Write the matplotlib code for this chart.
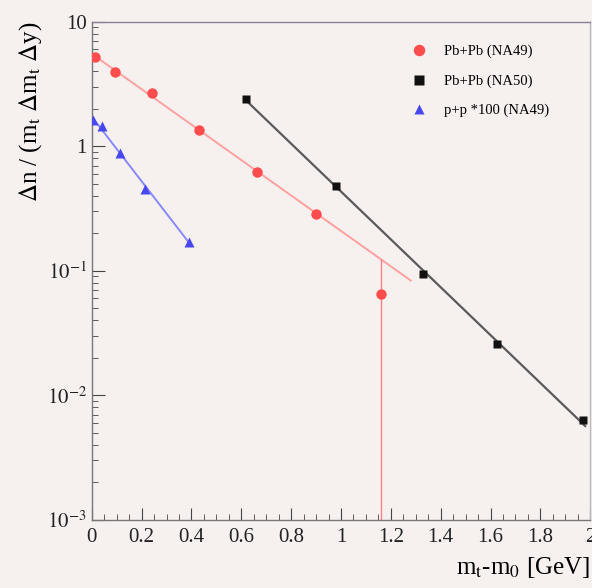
import numpy as np
import matplotlib
matplotlib.use("Agg")
import matplotlib.pyplot as plt
from matplotlib.ticker import FixedLocator, MultipleLocator, NullFormatter, LogLocator

plt.rcParams['font.family'] = ['Liberation Serif', 'DejaVu Serif']
plt.rcParams['mathtext.fontset'] = 'stix'

# data ==========================================
# Pb+Pb (NA49)
pb49_x = [0.012, 0.092, 0.24, 0.432, 0.664, 0.90, 1.16]
pb49_y = [5.2, 3.96, 2.69, 1.36, 0.62, 0.287, 0.065]
# Pb+Pb (NA50)
pb50_x = [0.62, 0.98, 1.328, 1.624, 1.97]
pb50_y = [2.41, 0.48, 0.0946, 0.026, 0.00635]
# p+p *100 (NA49)
pp_x = [0.004, 0.04, 0.112, 0.212, 0.392]
pp_y = [1.63, 1.46, 0.89, 0.456, 0.171]

# exponential fits (log-linear)
def fit_line(x, y, x0, x1):
    k, b = np.polyfit(x, np.log10(y), 1)
    xx = np.array([x0, x1])
    return xx, 10 ** (k * xx + b)

bg = '#f6f0ef'
fig = plt.figure(figsize=(5.92, 5.88), dpi=100, facecolor=bg)
ax = fig.add_axes([0.155, 0.116, 0.842, 0.847])
ax.set_facecolor(bg)

# fit lines
fx, fy = fit_line(pb49_x[:-1], pb49_y[:-1], 0.0, 1.28)
ax.plot(fx, fy, color='#ffa0a0', lw=1.4, zorder=2)
fx, fy = fit_line(pb50_x, pb50_y, 0.62, 1.98)
ax.plot(fx, fy, color='#5a5a5a', lw=1.6, zorder=2)
fx, fy = fit_line(pp_x, pp_y, 0.0, 0.392)
ax.plot(fx, fy, color='#8888ff', lw=1.4, zorder=2)

# error bar of last red point (down to zero)
ax.vlines(pb49_x[-1], 1e-4, 0.125, color='#ff8080', lw=1.0, zorder=2)

ax.plot(pb49_x, pb49_y, 'o', color='#ff4c4c', ms=7.5, mec='none', zorder=3,
        label='Pb+Pb (NA49)')
ax.plot(pb50_x, pb50_y, 's', color='#111111', ms=6, mec='none', zorder=3,
        label='Pb+Pb (NA50)')
ax.plot(pp_x, pp_y, '^', color='#4848f0', ms=7, mec='none', zorder=3,
        label='p+p *100 (NA49)')

ax.set_yscale('log')
ax.set_xlim(0, 2)
ax.set_ylim(1e-3, 10)

ax.xaxis.set_minor_locator(MultipleLocator(0.05))
ax.set_xticks([0, 0.2, 0.4, 0.6, 0.8, 1, 1.2, 1.4, 1.6, 1.8, 2])
ax.set_xticklabels(['0', '0.2', '0.4', '0.6', '0.8', '1', '1.2', '1.4',
                    '1.6', '1.8', '2'])
ax.yaxis.set_major_locator(FixedLocator([1e-3, 1e-2, 1e-1, 1, 10]))
ax.yaxis.set_minor_locator(LogLocator(base=10, subs=np.arange(2, 10)))
ax.yaxis.set_minor_formatter(NullFormatter())
ax.set_yticklabels([r'$10^{-3}$', r'$10^{-2}$', r'$10^{-1}$', '1', '10'])

ax.tick_params(axis='both', which='both', direction='in', labelsize=15,
               colors='#444444', labelcolor='#222222')
ax.tick_params(axis='both', which='major', length=9)
ax.tick_params(axis='both', which='minor', length=4)
ax.tick_params(axis='x', pad=6)
for s in ax.spines.values():
    s.set_color('#777777')
    s.set_linewidth(1.0)
ax.spines['top'].set_color('#8a7f95')
ax.spines['right'].set_color('#bbbbbb')

ax.set_ylabel(r'$\Delta$n / (m$_\mathrm{t}$ $\Delta$m$_\mathrm{t}$ $\Delta$y)',
              fontsize=18, loc='top', labelpad=2)
ax.set_xlabel(r'm$_\mathrm{t}$-m$_\mathrm{0}$ [GeV]', fontsize=18,
              loc='right', labelpad=6)

ax.legend(loc='upper left', bbox_to_anchor=(0.615, 0.98), frameon=False,
          fontsize=10.5, handlelength=1.0, handletextpad=1.2, labelspacing=1.1,
          markerscale=1.1)

fig.savefig('out.png', dpi=100, facecolor=bg)
